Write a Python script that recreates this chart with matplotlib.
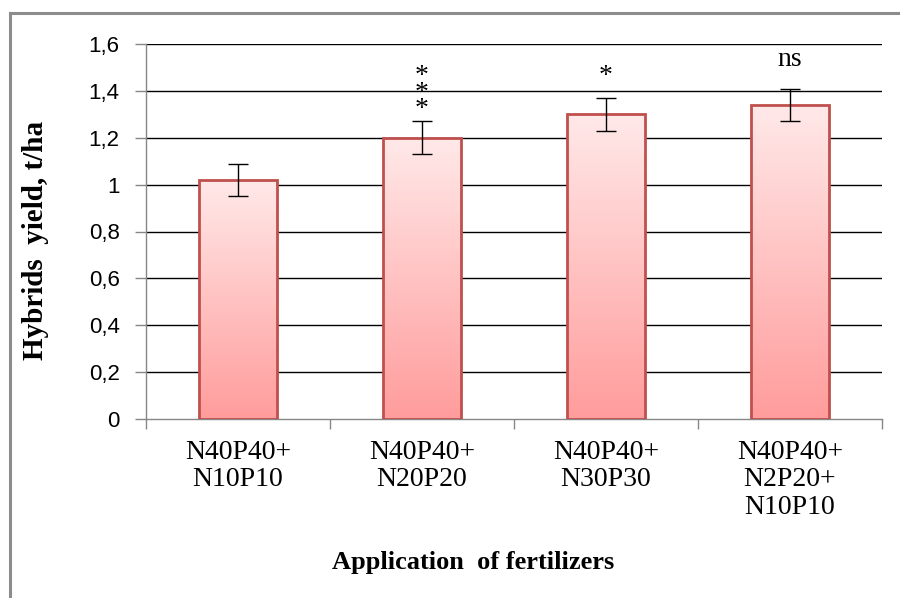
import matplotlib
matplotlib.use("Agg")
import matplotlib.pyplot as plt
import numpy as np
from matplotlib.lines import Line2D
from matplotlib.colors import LinearSegmentedColormap
import matplotlib.transforms as mtransforms

categories = ["N40P40+\nN10P10", "N40P40+\nN20P20", "N40P40+\nN30P30", "N40P40+\nN2P20+\nN10P10"]
values = [1.02, 1.20, 1.30, 1.34]
errors = [0.07, 0.07, 0.07, 0.07]
signif = ["", "*\n*\n*", "*", "ns"]
yticks = [0, 0.2, 0.4, 0.6, 0.8, 1.0, 1.2, 1.4, 1.6]
ytick_labels = ["0", "0,2", "0,4", "0,6", "0,8", "1", "1,2", "1,4", "1,6"]

W, H = 900, 598
fig = plt.figure(figsize=(W / 100, H / 100), dpi=100)
ax = fig.add_axes([146 / W, 1 - 419 / H, (882 - 146) / W, (419 - 44) / H])

x = np.arange(len(categories))
bw = 0.42
cmap = LinearSegmentedColormap.from_list("pinkgrad", ["#FF9C9C", "#FFE9E9"])
grad = np.linspace(0, 1, 256).reshape(-1, 1)

bars = ax.bar(x, values, width=bw, facecolor="none", edgecolor="#C0504D", linewidth=2.0, zorder=3)
for b in bars:
    x0, y0 = b.get_x(), b.get_y()
    w, h = b.get_width(), b.get_height()
    im = ax.imshow(grad, extent=[x0, x0 + w, y0, y0 + h], origin="lower", cmap=cmap,
                   aspect="auto", zorder=2.5)
    im.set_clip_path(b)

ax.errorbar(x, values, yerr=errors, fmt="none", ecolor="black", elinewidth=1.0,
            capsize=7, capthick=1.0, zorder=4)

ax.set_xlim(-0.5, len(categories) - 0.5)
ax.set_ylim(0, 1.6)

for yv in yticks[1:]:
    ax.axhline(yv, color="black", linewidth=1.0, zorder=1)

ax.set_yticks(yticks)
ax.set_yticklabels(ytick_labels, fontfamily="Liberation Sans", fontsize=16)
ax.tick_params(axis="y", direction="out", length=8, width=1, color="#868686", pad=11)
ax.set_xticks(np.arange(-0.5, len(categories), 1.0))
ax.set_xticklabels([])
ax.tick_params(axis="x", direction="out", length=7, width=1, color="#868686")

for s in ["top", "right"]:
    ax.spines[s].set_visible(False)
for s in ["left", "bottom"]:
    ax.spines[s].set_color("#868686")
    ax.spines[s].set_linewidth(1.0)

trans = mtransforms.blended_transform_factory(ax.transData, fig.transFigure)
for xi, lab in zip(x, categories):
    ax.text(xi, 1 - 440 / H, lab, transform=trans, ha="center", va="top",
            fontfamily="Liberation Serif", fontsize=20, linespacing=1.12)

# significance markers above the error bars
for xi, v, e, s in zip(x, values, errors, signif):
    if not s:
        continue
    top = v + e
    if s == "ns":
        ax.text(xi, top + 0.095, s, ha="center", va="baseline", fontfamily="Liberation Serif",
                fontsize=20)
    elif "\n" in s:
        ax.text(xi, top + 0.12, s, ha="center", va="center", fontfamily="Liberation Serif",
                fontsize=20, linespacing=0.55)
    else:
        ax.text(xi, top + 0.063, s, ha="center", va="baseline", fontfamily="Liberation Serif",
                fontsize=20)

fig.text(36 / W, 1 - 240 / H, "Hybrids  yield, t/ha", rotation=90, ha="center", va="center",
         fontfamily="Liberation Serif", fontweight="bold", fontsize=21)
fig.text(473 / W, 1 - 562 / H, "Application  of fertilizers", ha="center", va="center",
         fontfamily="Liberation Serif", fontweight="bold", fontsize=19)

# outer border (top and left edges visible)
fig.add_artist(Line2D([9.5 / W, 1.0], [1 - 13 / H, 1 - 13 / H], transform=fig.transFigure,
                      color="#8C8C8C", linewidth=2.2))
fig.add_artist(Line2D([9.5 / W, 9.5 / W], [1 - 13 / H, 0], transform=fig.transFigure,
                      color="#8C8C8C", linewidth=2.2))

fig.savefig("out.png", dpi=100)
